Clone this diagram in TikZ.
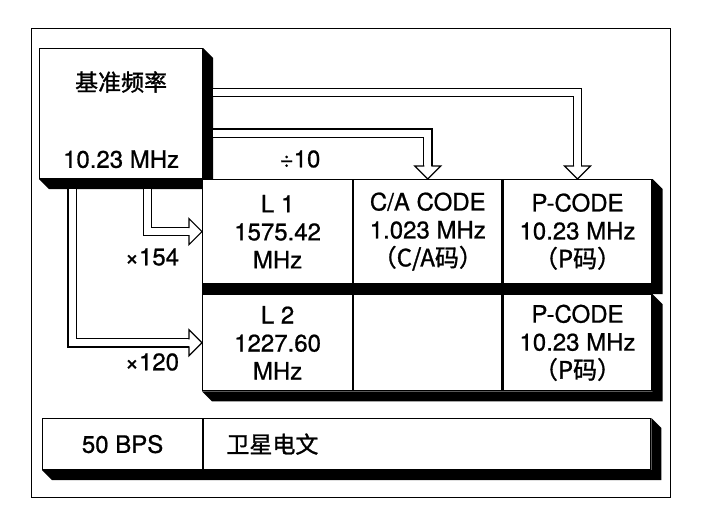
\documentclass[tikz,border=0pt]{standalone}
\usepackage{fontspec}
\setmainfont{TeX Gyre Heros}[FakeBold=0.8]
\newfontfamily\cjk{Noto Sans CJK SC}[FakeBold=1.2]
\usetikzlibrary{positioning,calc}
\tikzset{
  gps/cell/.style={draw, line width=1.2pt, fill=white, inner sep=0pt, anchor=north west,
                   align=center, font=\fontsize{24}{28}\selectfont},
  gps/lbl/.style={font=\fontsize{24}{28}\selectfont, inner sep=0pt, align=center},
  gps/cjk/.style={font=\cjk\fontsize{23}{28}\selectfont, inner sep=0pt},
  gps/pipe/.style={draw, line width=1.2pt, double=white, double distance=7pt, line join=miter},
  gps/frame/.style={draw, line width=0.9pt},
  hollow head/.pic={
    \fill[white] (-13,-13) -- (0,0) -- (-13,13) -- cycle;
    \draw[line width=1.2pt, line join=miter] (-13,-3.5) -- (-13,-13) -- (0,0) -- (-13,13) -- (-13,3.5);
  },
}
% black extruded edge on the right and bottom of a row of cells
\newcommand\dropshade[3][10]{%
  \fill (#3.north east) -- ++(10,10) -- ($(#3.south east)+(10,10)$)
    -- ($(#2.south west)+(#1,10)$) -- (#2.south west) -- (#3.south east) -- cycle;}

\begin{document}
\begin{tikzpicture}[x=1pt, y=-1pt]
  \useasboundingbox (0,0) rectangle (704,517);
  \draw[gps/frame] (31,28) rectangle (670,497);

  % ---------------- reference oscillator ----------------
  \node[gps/cell, minimum width=163, minimum height=130] (ref) at (39,48) {};
  \dropshade{ref}{ref}
  \node[gps/cjk] (refname) at ($(ref.north)+(0,34)$) {基准频率};
  \node[gps/lbl] (reffreq) at ($(ref.south)+(0,-20)$) {10.23 MHz};

  % ---------------- carrier table ----------------
  \node[gps/cell, minimum width=150, minimum height=104] (l1) at (202,179) {L 1\\1575.42\\MHz};
  \node[gps/cell, minimum width=148, minimum height=104, right=0pt of l1] (ca1)
    {C/A CODE\\1.023 MHz\\{\cjk （C/A码）}};
  \node[gps/cell, minimum width=149, minimum height=104, right=0pt of ca1] (p1)
    {P-CODE\\10.23 MHz\\{\cjk （P码）}};
  \dropshade[0]{l1}{p1}

  \node[gps/cell, minimum width=150, minimum height=96, below=10pt of l1.south west, anchor=north west] (l2)
    {L 2\\1227.60\\MHz};
  \node[gps/cell, minimum width=148, minimum height=96, right=0pt of l2] (ca2) {};
  \node[gps/cell, minimum width=149, minimum height=96, right=0pt of ca2] (p2)
    {P-CODE\\10.23 MHz\\{\cjk （P码）}};
  \dropshade{l2}{p2}

  % ---------------- navigation message ----------------
  \node[gps/cell, minimum width=160, minimum height=51] (bps) at (42,418) {50 BPS};
  \node[gps/cell, minimum width=447, minimum height=51, right=0pt of bps] (msg) {};
  \dropshade{bps}{msg}
  \node[gps/cjk, anchor=west] (msgtxt) at ($(msg.west)+(23,0)$) {卫星电文};

  % ---------------- hollow arrows ----------------
  \draw[gps/pipe] ([shift={(10,44.5)}]ref.north east) -| ([yshift=13pt]p1.north);
  \pic[rotate=-90] at (p1.north) {hollow head};
  \draw[gps/pipe] ([shift={(10,85)}]ref.north east) -| ([yshift=13pt]ca1.north);
  \pic[rotate=-90] at (ca1.north) {hollow head};
  \draw[gps/pipe] ([shift={(108.5,10)}]ref.south west) |- ([xshift=-13pt]l1.west);
  \pic at (l1.west) {hollow head};
  \draw[gps/pipe] ([shift={(33,10)}]ref.south west) |- ([xshift=-13pt]l2.west);
  \pic at (l2.west) {hollow head};

  \node[gps/lbl] (div10) at (300,159) {÷10};
  \node[gps/lbl] (mul154) at (152,257) {×154};
  \node[gps/lbl] (mul120) at (152,362) {×120};
\end{tikzpicture}
\end{document}
